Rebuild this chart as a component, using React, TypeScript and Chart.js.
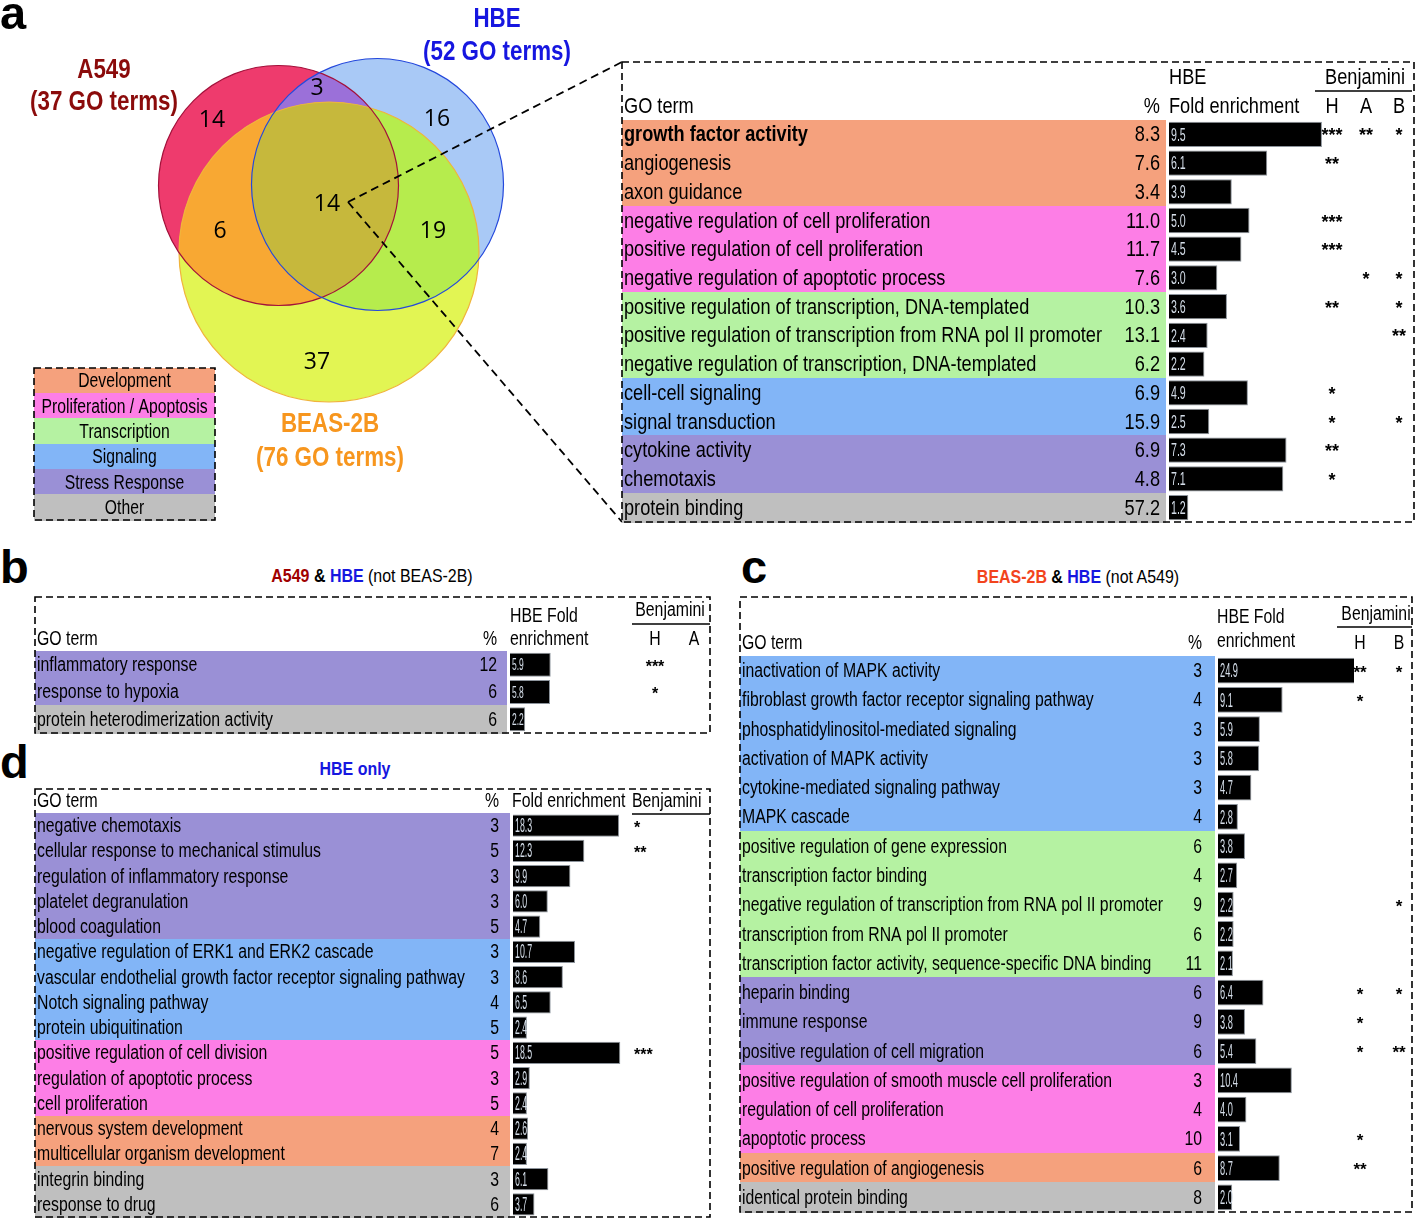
import React, { useEffect, useRef } from "react";
import { Chart, registerables } from "chart.js";

Chart.register(...registerables);

const SANS = '"Liberation Sans", Arial, Helvetica, sans-serif';
const ROUND = '"Open Sans", "Noto Sans", sans-serif';
Chart.defaults.font.family = SANS;

/* ------------------------------------------------------------------ */
/* DATA                                                                */
/* ------------------------------------------------------------------ */
const categoryNames = ["Development", "Proliferation / Apoptosis", "Transcription", "Signaling", "Stress Response", "Other"];
const categoryColors = ["#f5a17d", "#fd7ee6", "#b5f2a2", "#82b5f7", "#9a90d6", "#bfbfbf"];

const vennSetNames = ["A549", "HBE", "BEAS-2B"];
const vennSetTotals = [37, 52, 76];
// A549 only, HBE only, BEAS-2B only, A549&HBE, A549&BEAS-2B, HBE&BEAS-2B, all three
const vennRegionCounts = [14, 16, 37, 3, 6, 19, 14];

const aTerms = [
  "growth factor activity", "angiogenesis", "axon guidance",
  "negative regulation of cell proliferation", "positive regulation of cell proliferation",
  "negative regulation of apoptotic process", "positive regulation of transcription, DNA-templated",
  "positive regulation of transcription from RNA pol II promoter", "negative regulation of transcription, DNA-templated",
  "cell-cell signaling", "signal transduction", "cytokine activity", "chemotaxis", "protein binding",
];
const aCategory = [0, 0, 0, 1, 1, 1, 2, 2, 2, 3, 3, 4, 4, 5];
const aPercent = [8.3, 7.6, 3.4, 11.0, 11.7, 7.6, 10.3, 13.1, 6.2, 6.9, 15.9, 6.9, 4.8, 57.2];
const aFold = [9.5, 6.1, 3.9, 5.0, 4.5, 3.0, 3.6, 2.4, 2.2, 4.9, 2.5, 7.3, 7.1, 1.2];
const aSigH = ["***", "**", "", "***", "***", "", "**", "", "", "*", "*", "**", "*", ""];
const aSigA = ["**", "", "", "", "", "*", "", "", "", "", "", "", "", ""];
const aSigB = ["*", "", "", "", "", "*", "*", "**", "", "", "*", "", "", ""];

const bTerms = ["inflammatory response", "response to hypoxia", "protein heterodimerization activity"];
const bCategory = [4, 4, 5];
const bPercent = [12, 6, 6];
const bFold = [5.9, 5.8, 2.2];
const bSigH = ["***", "*", ""];
const bSigA = ["", "", ""];

const cTerms = [
  "inactivation of MAPK activity", "fibroblast growth factor receptor signaling pathway",
  "phosphatidylinositol-mediated signaling", "activation of MAPK activity", "cytokine-mediated signaling pathway",
  "MAPK cascade", "positive regulation of gene expression", "transcription factor binding",
  "negative regulation of transcription from RNA pol II promoter", "transcription from RNA pol II promoter",
  "transcription factor activity, sequence-specific DNA binding", "heparin binding", "immune response",
  "positive regulation of cell migration", "positive regulation of smooth muscle cell proliferation",
  "regulation of cell proliferation", "apoptotic process", "positive regulation of angiogenesis",
  "identical protein binding",
];
const cCategory = [3, 3, 3, 3, 3, 3, 2, 2, 2, 2, 2, 4, 4, 4, 1, 1, 1, 0, 5];
const cPercent = [3, 4, 3, 3, 3, 4, 6, 4, 9, 6, 11, 6, 9, 6, 3, 4, 10, 6, 8];
const cFold = [24.9, 9.1, 5.9, 5.8, 4.7, 2.8, 3.8, 2.7, 2.2, 2.2, 2.1, 6.4, 3.8, 5.4, 10.4, 4.0, 3.1, 8.7, 2.0];
const cSigH = ["**", "*", "", "", "", "", "", "", "", "", "", "*", "*", "*", "", "", "*", "**", ""];
const cSigB = ["*", "", "", "", "", "", "", "", "*", "", "", "*", "", "**", "", "", "", "", ""];

const dTerms = [
  "negative chemotaxis", "cellular response to mechanical stimulus", "regulation of inflammatory response",
  "platelet degranulation", "blood coagulation", "negative regulation of ERK1 and ERK2 cascade",
  "vascular endothelial growth factor receptor signaling pathway", "Notch signaling pathway",
  "protein ubiquitination", "positive regulation of cell division", "regulation of apoptotic process",
  "cell proliferation", "nervous system development", "multicellular organism development",
  "integrin binding", "response to drug",
];
const dCategory = [4, 4, 4, 4, 4, 3, 3, 3, 3, 1, 1, 1, 0, 0, 5, 5];
const dPercent = [3, 5, 3, 3, 5, 3, 3, 4, 5, 5, 3, 5, 4, 7, 3, 6];
const dFold = [18.3, 12.3, 9.9, 6.0, 4.7, 10.7, 8.6, 6.5, 2.4, 18.5, 2.9, 2.4, 2.6, 2.4, 6.1, 3.7];
const dSig = ["*", "**", "", "", "", "", "", "", "", "***", "", "", "", "", "", ""];

/* ------------------------------------------------------------------ */
/* LAYOUT / STYLE                                                      */
/* ------------------------------------------------------------------ */
const VENN_CANVAS = { w: 624, h: 530 };
const VENN_SHAPES = [
  { cx: 278.5, cy: 185.5, r: 120 },
  { cx: 377.5, cy: 184.5, r: 126 },
  { cx: 329, cy: 252, r: 150 },
];
const VENN_FILL = { A: "#ee3b6d", H: "#a9c9f6", B: "#e2f553", AH: "#9b70d9", AB: "#f8a833", HB: "#b6ec4d", AHB: "#c6b83c" };
const VENN_STROKE = ["#a3103a", "#2448dc", "#f0b43c"];
const VENN_COUNT_POS = [
  { x: 212, y: 120 }, { x: 437, y: 119 }, { x: 317, y: 362 }, { x: 317, y: 88 },
  { x: 220, y: 231 }, { x: 433, y: 231 }, { x: 327, y: 204 },
];
const VENN_SET_LABEL = [
  { x: 104, y1: 70, y2: 102, color: "#8b0b0b" },
  { x: 497, y1: 19, y2: 52, color: "#1616e0" },
  { x: 330, y1: 424, y2: 458, color: "#f7961e" },
];
const ZOOM_FROM = { x: 348, y: 202 };
const ZOOM_TO = [{ x: 622, y: 62 }, { x: 622, y: 522 }];
const LEGEND_BOX = { l: 34, t: 368, r: 215, b: 520 };

const LAYOUT_A = {
  id: "a", box: { l: 622, t: 62, r: 1414, b: 522 }, bandTop: 120, bandBottom: 522,
  barLeft: 1169, barRight: 1330, pxPerUnit: 16.1, size: 22, refWidth: 478, refIndex: 7,
  termX: 624, pctRight: 1160, pctDigits: 1, valSize: 19, valSx: 0.56, boldFirst: true, starSize: 18,
  headers: [
    { t: "GO term", x: 624, y: 107, a: "left" }, { t: "%", x: 1160, y: 107, a: "right" },
    { t: "HBE", x: 1169, y: 78, a: "left" }, { t: "Fold enrichment", x: 1169, y: 107, a: "left" },
    { t: "Benjamini", x: 1365, y: 78, a: "center" }, { t: "H", x: 1332, y: 107, a: "center" },
    { t: "A", x: 1366, y: 107, a: "center" }, { t: "B", x: 1399, y: 107, a: "center" },
  ],
  underline: { x1: 1315, x2: 1412, y: 91 },
  starCols: [{ x: 1332, a: "center" }, { x: 1366, a: "center" }, { x: 1399, a: "center" }],
};
const LAYOUT_B = {
  id: "b", box: { l: 35, t: 597, r: 710, b: 733 }, bandTop: 651, bandBottom: 733,
  barLeft: 510, barRight: 600, pxPerUnit: 6.9, size: 19.5, refWidth: 236, refIndex: 2,
  termX: 37, pctRight: 497, pctDigits: 0, valSize: 17, valSx: 0.5, boldFirst: false, starSize: 16,
  headers: [
    { t: "GO term", x: 37, y: 640, a: "left" }, { t: "%", x: 497, y: 640, a: "right" },
    { t: "HBE Fold", x: 510, y: 617, a: "left" }, { t: "enrichment", x: 510, y: 640, a: "left" },
    { t: "Benjamini", x: 670, y: 611, a: "center" }, { t: "H", x: 655, y: 640, a: "center" },
    { t: "A", x: 694, y: 640, a: "center" },
  ],
  underline: { x1: 632, x2: 710, y: 624 },
  starCols: [{ x: 655, a: "center" }, { x: 694, a: "center" }],
};
const LAYOUT_C = {
  id: "c", box: { l: 740, t: 597, r: 1412, b: 1212 }, bandTop: 656, bandBottom: 1212,
  barLeft: 1218, barRight: 1354, pxPerUnit: 7.1, size: 20, refWidth: 421, refIndex: 8,
  termX: 742, pctRight: 1202, pctDigits: 0, valSize: 21, valSx: 0.44, boldFirst: false, starSize: 17,
  headers: [
    { t: "GO term", x: 742, y: 643, a: "left" }, { t: "%", x: 1202, y: 643, a: "right" },
    { t: "HBE Fold", x: 1217, y: 617, a: "left" }, { t: "enrichment", x: 1217, y: 641, a: "left" },
    { t: "Benjamini", x: 1376, y: 614, a: "center" }, { t: "H", x: 1360, y: 643, a: "center" },
    { t: "B", x: 1399, y: 643, a: "center" },
  ],
  underline: { x1: 1337, x2: 1412, y: 627 },
  starCols: [{ x: 1360, a: "center" }, { x: 1399, a: "center" }],
};
const LAYOUT_D = {
  id: "d", box: { l: 35, t: 789, r: 710, b: 1217 }, bandTop: 813, bandBottom: 1217,
  barLeft: 513, barRight: 630, pxPerUnit: 5.8, size: 19.5, refWidth: 428, refIndex: 6,
  termX: 37, pctRight: 499, pctDigits: 0, valSize: 20, valSx: 0.44, boldFirst: false, starSize: 16,
  headers: [
    { t: "GO term", x: 37, y: 802, a: "left" }, { t: "%", x: 499, y: 802, a: "right" },
    { t: "Fold enrichment", x: 512, y: 802, a: "left" }, { t: "Benjamini", x: 632, y: 802, a: "left" },
  ],
  underline: { x1: 632, x2: 710, y: 814 },
  starCols: [{ x: 634, a: "left" }],
};

/* ------------------------------------------------------------------ */
/* HELPERS                                                             */
/* ------------------------------------------------------------------ */
function font(size: number, bold = false, family = SANS) {
  return `${bold ? "bold " : ""}${size}px ${family}`;
}
function txt(ctx: any, s: string, x: number, y: number, o: any) {
  ctx.save();
  ctx.font = font(o.size, o.bold, o.family);
  ctx.fillStyle = o.color || "#000";
  ctx.textAlign = o.align || "left";
  ctx.textBaseline = o.baseline || "middle";
  ctx.translate(x, y);
  ctx.scale(o.sx ?? 1, 1);
  ctx.fillText(s, 0, 0);
  ctx.restore();
}
function fitSx(ctx: any, s: string, size: number, bold: boolean, width: number, family = SANS) {
  ctx.save();
  ctx.font = font(size, bold, family);
  const w = ctx.measureText(s).width;
  ctx.restore();
  return width / w;
}
function dashedRect(ctx: any, x: number, y: number, w: number, h: number) {
  ctx.save();
  ctx.strokeStyle = "#000";
  ctx.lineWidth = 1.6;
  ctx.setLineDash([7, 4]);
  ctx.strokeRect(x, y, w, h);
  ctx.restore();
}

/* ------------------------------------------------------------------ */
/* TABLE CHART                                                         */
/* ------------------------------------------------------------------ */
function TableChart({ L, terms, cats, pct, fold, sigs }: any) {
  const ref = useRef<HTMLCanvasElement>(null);
  const cl = L.box.l - 1;
  const ct = L.box.t - 1;
  const cw = L.box.r - L.box.l + 2;
  const ch = L.box.b - L.box.t + 2;

  useEffect(() => {
    const X = (v: number) => v - cl;
    const Y = (v: number) => v - ct;
    const plugin = {
      id: "table_" + L.id,
      beforeDatasetsDraw(chart: any) {
        const ctx = chart.ctx;
        const ys = chart.scales.y;
        const area = chart.chartArea;
        const n = terms.length;
        const rowH = area.height / n;
        for (let i = 0; i < n; i++) {
          const yc = ys.getPixelForValue(i);
          const top = yc - rowH / 2;
          ctx.fillStyle = categoryColors[cats[i]];
          ctx.fillRect(X(L.box.l), Math.floor(top), X(L.barLeft - 3) - X(L.box.l), Math.ceil(rowH) + 1);
        }
        const sx = fitSx(ctx, terms[L.refIndex], L.size, false, L.refWidth);
        for (let i = 0; i < n; i++) {
          const yc = ys.getPixelForValue(i) + 1;
          txt(ctx, terms[i], X(L.termX), yc, { size: L.size, sx, bold: L.boldFirst && i === 0 });
          txt(ctx, pct[i].toFixed(L.pctDigits), X(L.pctRight), yc, { size: L.size, sx, align: "right" });
        }
        L.headers.forEach((h: any) => {
          txt(ctx, h.t, X(h.x), Y(h.y), { size: L.size, sx, align: h.a });
        });
        ctx.save();
        ctx.strokeStyle = "#000";
        ctx.lineWidth = 1.5;
        ctx.beginPath();
        ctx.moveTo(X(L.underline.x1), Y(L.underline.y));
        ctx.lineTo(X(L.underline.x2), Y(L.underline.y));
        ctx.stroke();
        ctx.restore();
      },
      afterDatasetsDraw(chart: any) {
        const ctx = chart.ctx;
        const ys = chart.scales.y;
        const meta = chart.getDatasetMeta(0);
        meta.data.forEach((el: any, i: number) => {
          const p = el.getProps(["y", "base"], true);
          txt(ctx, fold[i].toFixed(1), p.base + 2, p.y + 1, { size: L.valSize, sx: L.valSx, color: "#d4dde8" });
        });
        L.starCols.forEach((col: any, k: number) => {
          sigs[k].forEach((s: string, i: number) => {
            if (!s) return;
            txt(ctx, s, X(col.x), ys.getPixelForValue(i) + 7, {
              size: L.starSize, bold: true, align: col.a, baseline: "alphabetic",
            });
          });
        });
        dashedRect(ctx, 1, 1, cw - 2, ch - 2);
      },
    };
    const chart = new Chart(ref.current as any, {
      type: "bar",
      data: {
        labels: terms,
        datasets: [{
          data: fold,
          backgroundColor: "#000",
          borderColor: "#8d949c",
          borderWidth: 1,
          barPercentage: 0.88,
          categoryPercentage: 1,
          clip: 0,
        } as any],
      },
      options: {
        indexAxis: "y",
        responsive: false,
        maintainAspectRatio: false,
        animation: false,
        events: [],
        layout: {
          padding: {
            left: L.barLeft - cl,
            right: cl + cw - L.barRight,
            top: L.bandTop - ct,
            bottom: ct + ch - L.bandBottom,
          },
        },
        scales: {
          x: { type: "linear", min: 0, max: (L.barRight - L.barLeft) / L.pxPerUnit, display: false },
          y: { type: "category", display: false, offset: true },
        },
        plugins: { legend: { display: false }, tooltip: { enabled: false } },
      } as any,
      plugins: [plugin],
    });
    return () => chart.destroy();
  }, []);

  return (
    <canvas
      ref={ref}
      width={cw}
      height={ch}
      style={{ position: "absolute", left: cl, top: ct, width: cw, height: ch }}
    />
  );
}

/* ------------------------------------------------------------------ */
/* VENN CHART                                                          */
/* ------------------------------------------------------------------ */
function VennChart() {
  const ref = useRef<HTMLCanvasElement>(null);
  useEffect(() => {
    const plugin = {
      id: "venn",
      beforeDatasetsDraw(chart: any) {
        const ctx = chart.ctx;
        const xs = chart.scales.x;
        const ys = chart.scales.y;
        const path = (k: number) => {
          const g = VENN_SHAPES[k];
          const cx = xs.getPixelForValue(g.cx);
          const cy = ys.getPixelForValue(g.cy);
          const rx = Math.abs(xs.getPixelForValue(g.cx + g.r) - cx);
          const ry = Math.abs(ys.getPixelForValue(g.cy + g.r) - cy);
          ctx.beginPath();
          ctx.ellipse(cx, cy, rx, ry, 0, 0, Math.PI * 2);
        };
        const fill = (k: number, color: string, clips: number[]) => {
          ctx.save();
          clips.forEach((c) => { path(c); ctx.clip(); });
          path(k);
          ctx.fillStyle = color;
          ctx.fill();
          ctx.restore();
        };
        fill(0, VENN_FILL.A, []);
        fill(1, VENN_FILL.H, []);
        fill(2, VENN_FILL.B, []);
        fill(2, VENN_FILL.AB, [0]);
        fill(1, VENN_FILL.AH, [0]);
        fill(2, VENN_FILL.HB, [1]);
        fill(2, VENN_FILL.AHB, [0, 1]);
        [2, 0, 1].forEach((k) => {
          path(k);
          ctx.strokeStyle = VENN_STROKE[k];
          ctx.lineWidth = 1.2;
          ctx.stroke();
        });
      },
      afterDatasetsDraw(chart: any) {
        const ctx = chart.ctx;
        const xs = chart.scales.x;
        const ys = chart.scales.y;
        const meta = chart.getDatasetMeta(0);
        meta.data.forEach((el: any, i: number) => {
          txt(ctx, String(vennRegionCounts[i]), el.x, el.y, { size: 23, family: ROUND, align: "center" });
        });
        const lsx = fitSx(ctx, "(37 GO terms)", 28, true, 148);
        VENN_SET_LABEL.forEach((p, k) => {
          txt(ctx, vennSetNames[k], xs.getPixelForValue(p.x), ys.getPixelForValue(p.y1), { size: 28, bold: true, sx: lsx, align: "center", color: p.color });
          txt(ctx, `(${vennSetTotals[k]} GO terms)`, xs.getPixelForValue(p.x), ys.getPixelForValue(p.y2), { size: 28, bold: true, sx: lsx, align: "center", color: p.color });
        });
        ctx.save();
        ctx.strokeStyle = "#000";
        ctx.lineWidth = 1.8;
        ctx.setLineDash([8, 5]);
        ZOOM_TO.forEach((t) => {
          ctx.beginPath();
          ctx.moveTo(xs.getPixelForValue(ZOOM_FROM.x), ys.getPixelForValue(ZOOM_FROM.y));
          ctx.lineTo(xs.getPixelForValue(t.x), ys.getPixelForValue(t.y));
          ctx.stroke();
        });
        ctx.restore();
        const n = categoryNames.length;
        const rowH = (LEGEND_BOX.b - LEGEND_BOX.t) / n;
        const gsx = fitSx(ctx, categoryNames[1], 20, false, 166);
        categoryNames.forEach((name, i) => {
          const top = LEGEND_BOX.t + i * rowH;
          ctx.fillStyle = categoryColors[i];
          ctx.fillRect(LEGEND_BOX.l, Math.floor(top), LEGEND_BOX.r - LEGEND_BOX.l, Math.ceil(rowH) + 1);
          txt(ctx, name, (LEGEND_BOX.l + LEGEND_BOX.r) / 2, top + rowH / 2 + 1, { size: 20, sx: gsx, align: "center" });
        });
        dashedRect(ctx, LEGEND_BOX.l, LEGEND_BOX.t, LEGEND_BOX.r - LEGEND_BOX.l, LEGEND_BOX.b - LEGEND_BOX.t);
      },
    };
    const chart = new Chart(ref.current as any, {
      type: "scatter",
      data: {
        datasets: [{ data: VENN_COUNT_POS.map((p) => ({ x: p.x, y: p.y })), pointRadius: 0, showLine: false } as any],
      },
      options: {
        responsive: false,
        maintainAspectRatio: false,
        animation: false,
        events: [],
        layout: { padding: 0 },
        scales: {
          x: { type: "linear", min: 0, max: VENN_CANVAS.w, display: false },
          y: { type: "linear", min: 0, max: VENN_CANVAS.h, reverse: true, display: false },
        },
        plugins: { legend: { display: false }, tooltip: { enabled: false } },
      } as any,
      plugins: [plugin],
    });
    return () => chart.destroy();
  }, []);
  return (
    <canvas
      ref={ref}
      width={VENN_CANVAS.w}
      height={VENN_CANVAS.h}
      style={{ position: "absolute", left: 0, top: 0, width: VENN_CANVAS.w, height: VENN_CANVAS.h }}
    />
  );
}

/* ------------------------------------------------------------------ */
/* PAGE                                                                */
/* ------------------------------------------------------------------ */
const letterStyle = (left: number, top: number): any => ({
  position: "absolute", left, top, fontFamily: SANS, fontWeight: "bold", fontSize: 47, lineHeight: 1, color: "#000",
});
const titleStyle = (cx: number, cy: number): any => ({
  position: "absolute", left: cx, top: cy, transform: "translate(-50%, -50%) scaleX(0.84)",
  fontFamily: SANS, fontSize: 19, lineHeight: 1, whiteSpace: "nowrap", color: "#000",
});

export default function App() {
  return (
    <div style={{ position: "absolute", left: 0, top: 0, width: 1416, height: 1219, background: "#fff", overflow: "hidden" }}>
      <VennChart />
      <TableChart L={LAYOUT_A} terms={aTerms} cats={aCategory} pct={aPercent} fold={aFold} sigs={[aSigH, aSigA, aSigB]} />
      <TableChart L={LAYOUT_B} terms={bTerms} cats={bCategory} pct={bPercent} fold={bFold} sigs={[bSigH, bSigA]} />
      <TableChart L={LAYOUT_C} terms={cTerms} cats={cCategory} pct={cPercent} fold={cFold} sigs={[cSigH, cSigB]} />
      <TableChart L={LAYOUT_D} terms={dTerms} cats={dCategory} pct={dPercent} fold={dFold} sigs={[dSig]} />
      <div style={letterStyle(0, -11)}>a</div>
      <div style={letterStyle(0, 543)}>b</div>
      <div style={letterStyle(741, 543)}>c</div>
      <div style={letterStyle(0, 738)}>d</div>
      <div style={titleStyle(372, 575)}>
        <b style={{ color: "#a00000" }}>A549</b> <b>&amp;</b> <b style={{ color: "#1616e0" }}>HBE</b> (not BEAS-2B)
      </div>
      <div style={titleStyle(1078, 576)}>
        <b style={{ color: "#f2441d" }}>BEAS-2B</b> <b>&amp;</b> <b style={{ color: "#1616e0" }}>HBE</b> (not A549)
      </div>
      <div style={titleStyle(355, 768)}>
        <b style={{ color: "#1616e0" }}>HBE only</b>
      </div>
    </div>
  );
}
